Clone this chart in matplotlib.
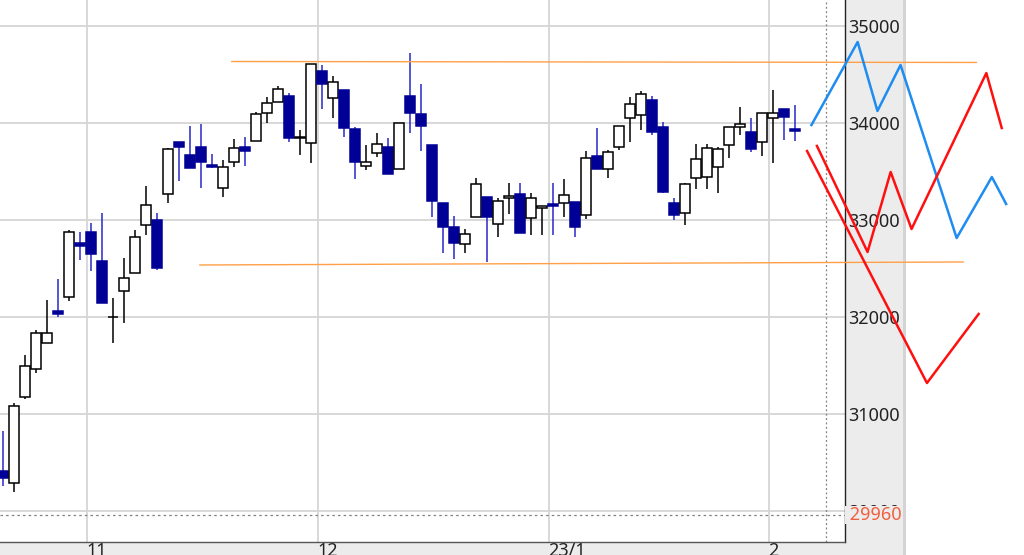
import matplotlib
matplotlib.use("Agg")
import matplotlib.pyplot as plt
from matplotlib.patches import Rectangle

# daily candles (open, high, low, close), one entry per trading day
opens = [30412, 30288, 31175, 31464, 31732, 32062, 32206, 32763, 32876, 32577,
         32000, 32268, 32453, 32948, 33000, 33268, 33804, 33670, 33752, 33567,
         33330, 33598, 33752, 33814, 34103, 34216, 34278, 33850, 33794, 34536,
         34258, 34340, 33938, 33557, 33691, 33753, 33526, 34278, 34093, 33773,
         33175, 32928, 32753, 33031, 33237, 32959, 33227, 33268, 33021, 33124,
         33165, 33175, 33185, 33051, 33660, 33526, 33753, 34052, 34082, 34237,
         33959, 33175, 33072, 33433, 33443, 33546, 33773, 33959, 33907, 33804,
         34052, 34144, 33938]
highs = [30824, 31113, 31608, 31866, 32175, 32392, 32897, 32876, 32969, 33072,
         32196, 32608, 32897, 33350, 33072, 33745, 33804, 33969, 33990, 33680,
         33618, 33835, 33856, 34113, 34268, 34381, 34309, 33928, 34608, 34598,
         34485, 34340, 33959, 33773, 33897, 33845, 34000, 34722, 34402, 33773,
         33175, 33041, 32907, 33433, 33237, 33227, 33381, 33381, 33278, 33144,
         33381, 33423, 33185, 33711, 33948, 33722, 33969, 34268, 34330, 34278,
         34010, 33227, 33381, 33784, 33784, 33753, 33959, 34165, 34052, 34103,
         34340, 34144, 34185]
lows = [30257, 30196, 31150, 31422, 31732, 32000, 32165, 32587, 32474, 32144,
        31732, 31938, 32453, 32845, 32484, 33175, 33402, 33536, 33330, 33536,
        33237, 33546, 33557, 33814, 34000, 34216, 33804, 33670, 33588, 34144,
        34051, 33856, 33423, 33515, 33649, 33474, 33526, 33897, 33711, 33031,
        32660, 32598, 32660, 33031, 32567, 32825, 33062, 32866, 32845, 32845,
        32845, 33031, 32825, 33010, 33526, 33433, 33722, 33804, 33928, 33876,
        33278, 33000, 32948, 33320, 33320, 33278, 33639, 33876, 33701, 33660,
        33588, 33825, 33814]
closes = [30340, 31082, 31495, 31835, 31835, 32031, 32876, 32732, 32649, 32144,
          32000, 32402, 32824, 33155, 32505, 33732, 33752, 33536, 33598, 33546,
          33546, 33742, 33711, 34093, 34206, 34350, 33845, 33850, 34608, 34402,
          34423, 33948, 33598, 33598, 33784, 33474, 34000, 34103, 33969, 33196,
          32928, 32763, 32856, 33371, 33031, 33196, 33248, 32866, 33227, 33144,
          33144, 33258, 32928, 33639, 33526, 33701, 33969, 34196, 34299, 33907,
          33289, 33051, 33371, 33629, 33742, 33732, 33959, 33990, 33732, 34103,
          34103, 34062, 33918]

# month starts (candle index) and their labels
month_idx = [8, 29, 50, 70]
month_labels = ["11", "12", "23/1", "2"]
price_ticks = [30000, 31000, 32000, 33000, 34000, 35000]

# support / resistance lines (x in candle index units)
res_x, res_y = [20.8, 88.5], [34634, 34624]
sup_x, sup_y = [17.9, 87.3], [32536, 32567]

# projected paths to the right of the chart
blue_x = [73.5, 77.7, 79.5, 81.6, 86.7, 89.9, 91.2]
blue_y = [33979, 34835, 34124, 34598, 32814, 33443, 33165]
red1_x = [74.0, 78.6, 80.7, 82.6, 89.4, 90.8]
red1_y = [33763, 32670, 33495, 32907, 34515, 33948]
red2_x = [73.1, 84.0, 88.7]
red2_y = [33711, 31319, 32031]

last_price = 29960

W, H = 1024, 555
fig = plt.figure(figsize=(W / 100, H / 100), dpi=100)
fig.patches.append(Rectangle((0, 0), 903 / W, 1, transform=fig.transFigure,
                             facecolor="#ECECEC", edgecolor="none", zorder=-2))
fig.patches.append(Rectangle((903 / W, 0), 3 / W, 1, transform=fig.transFigure,
                             facecolor="#D4D4D4", edgecolor="none", zorder=-2))
ax = fig.add_axes([0, 13 / H, 845 / W, 542 / H])
ax.set_facecolor("white")

navy = "#000096"
wick_blue = "#2828C8"
body_w = 0.85
for i, (o, h, l, c) in enumerate(zip(opens, highs, lows, closes)):
    up = c >= o
    wc = "black" if up else wick_blue
    ax.vlines(i, l, h, color=wc, lw=1.1, zorder=3)
    bottom = min(o, c)
    height = max(abs(c - o), 1)
    if up:
        ax.bar(i, height, bottom=bottom, width=body_w, facecolor="white",
               edgecolor="black", lw=1.1, zorder=4)
    else:
        ax.bar(i, height, bottom=bottom, width=body_w, facecolor=navy,
               edgecolor=navy, lw=1.1, zorder=4)

orange = "#FFA048"
ax.plot(res_x, res_y, color=orange, lw=1, clip_on=False, zorder=5)
ax.plot(sup_x, sup_y, color=orange, lw=1, clip_on=False, zorder=5)

ax.plot(blue_x, blue_y, color="#1E8CF0", lw=1.8, clip_on=False, zorder=6)
ax.plot(red1_x, red1_y, color="#FF1010", lw=1.8, clip_on=False, zorder=6)
ax.plot(red2_x, red2_y, color="#FF1010", lw=1.8, clip_on=False, zorder=6)

ax.axhline(last_price, color="#808080", lw=0.9, ls=(0, (2, 2.5)), zorder=2)
ax.axvline(74.8, color="#808080", lw=0.9, ls=(0, (1.5, 2)), zorder=2)

ax.set_xlim(-0.27, 76.55)
ax.set_ylim(29680, 35268)

ax.set_yticks(price_ticks)
ax.set_yticklabels([str(p) for p in price_ticks])
ax.yaxis.tick_right()
ax.set_xticks([m - 0.4 for m in month_idx])
ax.set_xticklabels(month_labels)
for t in ax.get_xticklabels():
    t.set_ha("left")
ax.tick_params(axis="both", length=0, labelsize=13, labelcolor="#222222",
               labelfontfamily="Noto Sans")
ax.tick_params(axis="y", pad=2)
ax.tick_params(axis="x", pad=0)
ax.grid(True, color="#D6D6D6", lw=1.3)
ax.set_axisbelow(True)

for s in ["left", "top"]:
    ax.spines[s].set_visible(False)
ax.spines["right"].set_color("#222222")
ax.spines["right"].set_linewidth(1)
ax.spines["bottom"].set_color("#555555")
ax.spines["bottom"].set_linewidth(1)

ax.text(1.0, last_price, " " + str(last_price), transform=ax.get_yaxis_transform(),
        va="center", ha="left", fontsize=13, color="#F06040", family="Noto Sans",
        bbox=dict(facecolor="#ECECEC", edgecolor="none", pad=0), clip_on=False,
        zorder=7)

fig.savefig("out.png", dpi=100)
